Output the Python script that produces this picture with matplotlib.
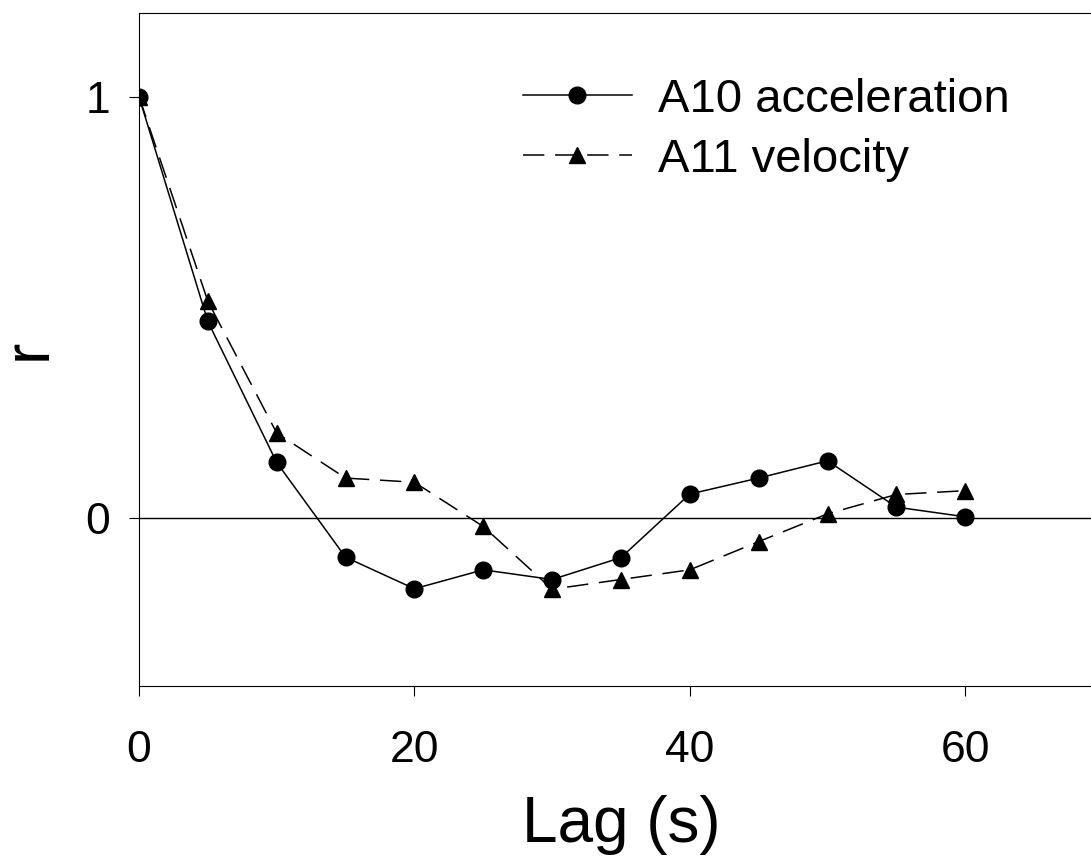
import numpy as np
import matplotlib.pyplot as plt

plt.rcParams['font.family'] = ['Liberation Sans', 'DejaVu Sans']

# lag (s) and cross-correlation r for each signal
lag = [0, 5, 10, 15, 20, 25, 30, 35, 40, 45, 50, 55, 60]
r_a10_accel = [1.0, 0.466, 0.131, -0.094, -0.169, -0.124, -0.147, -0.095,
               0.056, 0.094, 0.135, 0.025, 0.002]
r_a11_vel = [1.0, 0.514, 0.201, 0.094, 0.084, -0.021, -0.170, -0.147,
             -0.124, -0.057, 0.009, 0.055, 0.064]

W, H = 1091, 863
fig = plt.figure(figsize=(W / 100, H / 100), dpi=100)
x0, x1 = 139, 139 + 70 * 13.77
y_top, y_bot = 12.5, 686
ax = fig.add_axes([x0 / W, 1 - y_bot / H, (x1 - x0) / W, (y_bot - y_top) / H])

ax.axhline(0, color='black', lw=1.0, zorder=1)

ax.plot(lag, r_a11_vel, color='black', lw=1.1, ls=(0, (14, 7)),
        marker='^', ms=11, label='A11 velocity', zorder=2)
ax.plot(lag, r_a10_accel, color='black', lw=1.1, ls='-',
        marker='o', ms=12, label='A10 acceleration', zorder=3)

ax.set_xlim(0, 70)
ax.set_ylim(-0.4, 1.2)
ax.set_xticks([0, 20, 40, 60])
ax.set_yticks([0, 1])
ax.tick_params(direction='out', length=7, width=0.8, labelsize=32)
ax.tick_params(axis='x', pad=25)
ax.tick_params(axis='y', pad=14)
ax.spines['right'].set_visible(False)
for s in ('left', 'bottom', 'top'):
    ax.spines[s].set_linewidth(0.8)

ax.set_xlabel('Lag (s)', fontsize=46, labelpad=17)
ax.set_ylabel('r', fontsize=46, labelpad=19)

handles, labels = ax.get_legend_handles_labels()
leg = ax.legend(handles[::-1], labels[::-1], loc='upper left',
                bbox_to_anchor=(523 / W, 1 - 78 / H), bbox_transform=fig.transFigure,
                frameon=False, fontsize=34, handlelength=2.3, handletextpad=0.55,
                labelspacing=0.33, borderaxespad=0, borderpad=0)

fig.savefig('out.png', dpi=100)
